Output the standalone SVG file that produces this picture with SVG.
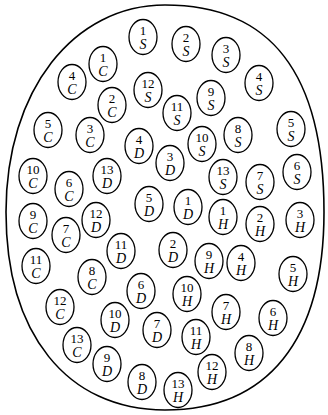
<svg xmlns="http://www.w3.org/2000/svg" width="328" height="415" viewBox="0 0 328 415">
<style>
.o{fill:none;stroke:#000;stroke-width:1.3}
.b{fill:none;stroke:#000;stroke-width:1.6}
.n{font-family:"Liberation Serif","Times New Roman",serif;font-size:13px;text-anchor:middle;fill:#000}
.l{font-family:"Liberation Serif","Times New Roman",serif;font-size:14px;font-style:italic;text-anchor:middle;fill:#000}
</style>
<rect width="328" height="415" fill="#fff"/>
<path id="boundary" class="b" d="M165,5 C270.6,5 324,72.4 324,212 C324,340 268,410 165,410 C66.4,410 6,333 6,212 C6,90 73.8,5 165,5 Z"/>
<defs>
<ellipse id="ov" class="o" cx="0" cy="0" rx="14" ry="17.5"/>
</defs>
<g id="S1" transform="translate(143,37)"><use href="#ov"/><text class="n" y="-2">1</text><text class="l" y="12">S</text></g>
<g id="S2" transform="translate(186,44)"><use href="#ov"/><text class="n" y="-2">2</text><text class="l" y="12">S</text></g>
<g id="S3" transform="translate(226,55)"><use href="#ov"/><text class="n" y="-2">3</text><text class="l" y="12">S</text></g>
<g id="S4" transform="translate(259,83)"><use href="#ov"/><text class="n" y="-2">4</text><text class="l" y="12">S</text></g>
<g id="S5" transform="translate(291,129)"><use href="#ov"/><text class="n" y="-2">5</text><text class="l" y="12">S</text></g>
<g id="S6" transform="translate(297,172)"><use href="#ov"/><text class="n" y="-2">6</text><text class="l" y="12">S</text></g>
<g id="S7" transform="translate(260,182)"><use href="#ov"/><text class="n" y="-2">7</text><text class="l" y="12">S</text></g>
<g id="S8" transform="translate(238,135)"><use href="#ov"/><text class="n" y="-2">8</text><text class="l" y="12">S</text></g>
<g id="S9" transform="translate(211,98)"><use href="#ov"/><text class="n" y="-2">9</text><text class="l" y="12">S</text></g>
<g id="S10" transform="translate(202,144)"><use href="#ov"/><text class="n" y="-2">10</text><text class="l" y="12">S</text></g>
<g id="S11" transform="translate(177,113)"><use href="#ov"/><text class="n" y="-2">11</text><text class="l" y="12">S</text></g>
<g id="S12" transform="translate(148,90)"><use href="#ov"/><text class="n" y="-2">12</text><text class="l" y="12">S</text></g>
<g id="S13" transform="translate(223,177)"><use href="#ov"/><text class="n" y="-2">13</text><text class="l" y="12">S</text></g>
<g id="C1" transform="translate(103,64)"><use href="#ov"/><text class="n" y="-2">1</text><text class="l" y="12">C</text></g>
<g id="C2" transform="translate(112,105)"><use href="#ov"/><text class="n" y="-2">2</text><text class="l" y="12">C</text></g>
<g id="C3" transform="translate(90,135)"><use href="#ov"/><text class="n" y="-2">3</text><text class="l" y="12">C</text></g>
<g id="C4" transform="translate(72,82)"><use href="#ov"/><text class="n" y="-2">4</text><text class="l" y="12">C</text></g>
<g id="C5" transform="translate(48,130)"><use href="#ov"/><text class="n" y="-2">5</text><text class="l" y="12">C</text></g>
<g id="C6" transform="translate(69,189)"><use href="#ov"/><text class="n" y="-2">6</text><text class="l" y="12">C</text></g>
<g id="C7" transform="translate(66,235)"><use href="#ov"/><text class="n" y="-2">7</text><text class="l" y="12">C</text></g>
<g id="C8" transform="translate(92,277)"><use href="#ov"/><text class="n" y="-2">8</text><text class="l" y="12">C</text></g>
<g id="C9" transform="translate(33,221)"><use href="#ov"/><text class="n" y="-2">9</text><text class="l" y="12">C</text></g>
<g id="C10" transform="translate(33,176)"><use href="#ov"/><text class="n" y="-2">10</text><text class="l" y="12">C</text></g>
<g id="C11" transform="translate(36,266)"><use href="#ov"/><text class="n" y="-2">11</text><text class="l" y="12">C</text></g>
<g id="C12" transform="translate(60,307)"><use href="#ov"/><text class="n" y="-2">12</text><text class="l" y="12">C</text></g>
<g id="C13" transform="translate(77,345)"><use href="#ov"/><text class="n" y="-2">13</text><text class="l" y="12">C</text></g>
<g id="D1" transform="translate(188,207)"><use href="#ov"/><text class="n" y="-2">1</text><text class="l" y="12">D</text></g>
<g id="D2" transform="translate(173,250)"><use href="#ov"/><text class="n" y="-2">2</text><text class="l" y="12">D</text></g>
<g id="D3" transform="translate(170,163)"><use href="#ov"/><text class="n" y="-2">3</text><text class="l" y="12">D</text></g>
<g id="D4" transform="translate(139,146)"><use href="#ov"/><text class="n" y="-2">4</text><text class="l" y="12">D</text></g>
<g id="D5" transform="translate(149,204)"><use href="#ov"/><text class="n" y="-2">5</text><text class="l" y="12">D</text></g>
<g id="D6" transform="translate(141,291)"><use href="#ov"/><text class="n" y="-2">6</text><text class="l" y="12">D</text></g>
<g id="D7" transform="translate(157,330)"><use href="#ov"/><text class="n" y="-2">7</text><text class="l" y="12">D</text></g>
<g id="D8" transform="translate(142,382)"><use href="#ov"/><text class="n" y="-2">8</text><text class="l" y="12">D</text></g>
<g id="D9" transform="translate(107,364)"><use href="#ov"/><text class="n" y="-2">9</text><text class="l" y="12">D</text></g>
<g id="D10" transform="translate(115,320)"><use href="#ov"/><text class="n" y="-2">10</text><text class="l" y="12">D</text></g>
<g id="D11" transform="translate(121,251)"><use href="#ov"/><text class="n" y="-2">11</text><text class="l" y="12">D</text></g>
<g id="D12" transform="translate(96,220)"><use href="#ov"/><text class="n" y="-2">12</text><text class="l" y="12">D</text></g>
<g id="D13" transform="translate(107,176)"><use href="#ov"/><text class="n" y="-2">13</text><text class="l" y="12">D</text></g>
<g id="H1" transform="translate(223,217)"><use href="#ov"/><text class="n" y="-2">1</text><text class="l" y="12">H</text></g>
<g id="H2" transform="translate(260,224)"><use href="#ov"/><text class="n" y="-2">2</text><text class="l" y="12">H</text></g>
<g id="H3" transform="translate(300,220)"><use href="#ov"/><text class="n" y="-2">3</text><text class="l" y="12">H</text></g>
<g id="H4" transform="translate(241,263)"><use href="#ov"/><text class="n" y="-2">4</text><text class="l" y="12">H</text></g>
<g id="H5" transform="translate(293,274)"><use href="#ov"/><text class="n" y="-2">5</text><text class="l" y="12">H</text></g>
<g id="H6" transform="translate(273,318)"><use href="#ov"/><text class="n" y="-2">6</text><text class="l" y="12">H</text></g>
<g id="H7" transform="translate(226,312)"><use href="#ov"/><text class="n" y="-2">7</text><text class="l" y="12">H</text></g>
<g id="H8" transform="translate(249,353)"><use href="#ov"/><text class="n" y="-2">8</text><text class="l" y="12">H</text></g>
<g id="H9" transform="translate(209,261)"><use href="#ov"/><text class="n" y="-2">9</text><text class="l" y="12">H</text></g>
<g id="H10" transform="translate(187,294)"><use href="#ov"/><text class="n" y="-2">10</text><text class="l" y="12">H</text></g>
<g id="H11" transform="translate(196,337)"><use href="#ov"/><text class="n" y="-2">11</text><text class="l" y="12">H</text></g>
<g id="H12" transform="translate(212,372)"><use href="#ov"/><text class="n" y="-2">12</text><text class="l" y="12">H</text></g>
<g id="H13" transform="translate(178,390)"><use href="#ov"/><text class="n" y="-2">13</text><text class="l" y="12">H</text></g>
</svg>
